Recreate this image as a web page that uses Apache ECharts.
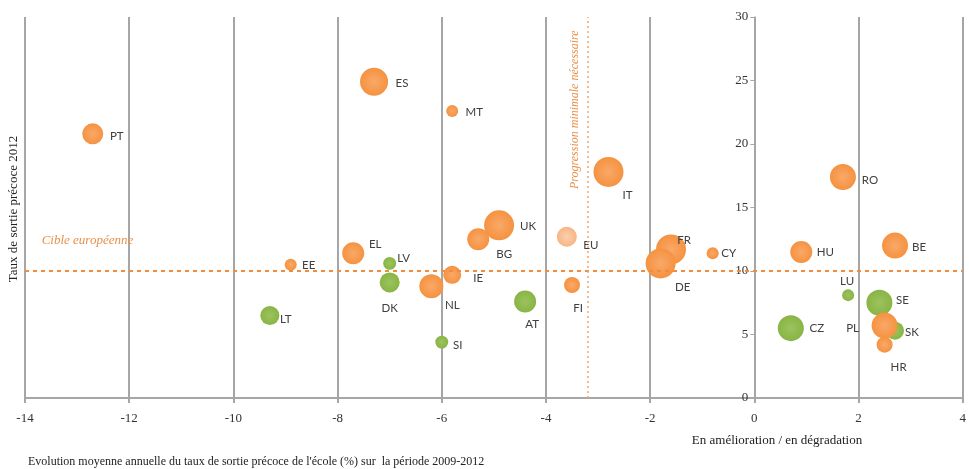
<!DOCTYPE html>
<html><head><meta charset="utf-8">
<script src="https://cdn.jsdelivr.net/npm/echarts@6/dist/echarts.min.js"></script>
<style>html,body{margin:0;padding:0;background:#fff}#c{width:969px;height:469px}</style>
</head><body><div id="c"></div>
<script>
// ---------- DATA ----------
const pays      = ['PT','ES','MT','IT','EU','RO','HU','BE','CY','FR','DE','UK','BG','EL','EE','LV','DK','IE','NL','AT','FI','LT','SI','LU','SE','CZ','PL','SK','HR'];
const evolution = [-12.7,-7.3,-5.8,-2.8,-3.6,1.7,0.9,2.7,-0.8,-1.6,-1.8,-4.9,-5.3,-7.7,-8.9,-7.0,-7.0,-5.8,-6.2,-4.4,-3.5,-9.3,-6.0,1.8,2.4,0.7,2.5,2.7,2.5];
const taux2012  = [20.8,24.9,22.6,17.8,12.7,17.4,11.5,12.0,11.4,11.7,10.6,13.6,12.5,11.4,10.5,10.6,9.1,9.7,8.8,7.6,8.9,6.5,4.4,8.1,7.5,5.5,5.7,5.3,4.2];
const poids     = [110,196,36,225,100,169,121,169,36,225,225,225,121,121,36,42,100,81,144,121,64,90,42,36,169,169,169,81,64];
const groupe    = ['o','o','o','o','eu','o','o','o','o','o','o','o','o','o','o','v','v','o','o','v','o','v','v','v','v','v','o','v','o'];
const xTicks = [-14,-12,-10,-8,-6,-4,-2,0,2,4];
const yTicks = [0,5,10,15,20,25,30];
const cibleEuropeenne = 10;
const progressionMinimale = -3.2;

// ---------- STYLE ----------
const labelOffset = {
  PT:[24,2], ES:[28,2], MT:[22,1], IT:[19,23], EU:[24,9], RO:[27,3], HU:[24,0], BE:[24,2],
  CY:[16,0], FR:[13,-9], DE:[22,24], UK:[29,1], BG:[26,15], EL:[22,-9], EE:[18,1], LV:[14,-5],
  DK:[0,26], IE:[26,3], NL:[21,19], AT:[7,23], FI:[6,23], LT:[16,4], SI:[16,3], LU:[-1,-14],
  SE:[23,-2], CZ:[26,0], PL:[-32,3], SK:[17,2], HR:[14,23]
};
function grad(c1, c2){ return {type:'radial',x:0.5,y:0.5,r:0.5,colorStops:[{offset:0,color:c1},{offset:1,color:c2}]}; }
const couleurs = { o: grad('#F9A969','#F59240'), v: grad('#9DC25F','#88B544'), eu: grad('#FAD0B0','#F7B583') };
const gridCol = '#A6A6A6';
const serif = '"Liberation Serif", "DejaVu Serif", serif';
const gridLeft = 25;

function items(g){
  const out = [];
  pays.forEach((p,i)=>{
    if (groupe[i] !== g) return;
    out.push({name:p, value:[evolution[i], taux2012[i], poids[i]], label:{offset: labelOffset[p]}});
  });
  return out;
}
function serie(g, extra){
  return Object.assign({
    type:'scatter',
    data: items(g),
    symbolSize: v => 2*Math.sqrt(v[2]),
    itemStyle:{color: couleurs[g], opacity:1},
    label:{show:true, position:'inside', formatter:'{b}', color:'#404040', fontFamily:'Lato, "Open Sans", sans-serif', fontSize:11.5},
    emphasis:{disabled:true},
    z: 3
  }, extra||{});
}

const chart = echarts.init(document.getElementById('c'), null, {renderer:'canvas'});
chart.setOption({
  animation:false,
  backgroundColor:'#fff',
  grid:{left:gridLeft, right:1, top:17, bottom:71, containLabel:false},
  xAxis:{
    type:'value', min:xTicks[0], max:xTicks[xTicks.length-1], interval:xTicks[1]-xTicks[0],
    axisLine:{show:true, onZero:false, lineStyle:{color:gridCol, width:2}},
    axisTick:{show:true, length:5, lineStyle:{color:gridCol, width:2}},
    axisLabel:{color:'#333', fontFamily:serif, fontSize:13, margin:14, showMinLabel:true, showMaxLabel:true},
    splitLine:{show:true, lineStyle:{color:gridCol, width:2}}
  },
  yAxis:{
    type:'value', position:'left', min:yTicks[0], max:yTicks[yTicks.length-1], interval:yTicks[1]-yTicks[0],
    axisLine:{show:true, onZero:false, lineStyle:{color:gridCol, width:1.5}},
    axisTick:{show:true, length:4, lineStyle:{color:gridCol}},
    axisLabel:{color:'#333', fontFamily:serif, fontSize:13, margin:6},
    splitLine:{show:false}
  },
  series:[
    serie('v'),
    serie('eu'),
    serie('o', {
      markLine:{
        silent:true, symbol:'none', animation:false,
        label:{show:false},
        data:[
          {yAxis: cibleEuropeenne, lineStyle:{color:'#F08C3E', width:2, type:[4,4]}},
          {xAxis: progressionMinimale, lineStyle:{color:'#F3A76E', width:1.5, type:[2,3]}}
        ]
      }
    })
  ]
});

// place the y axis on x = 0 (like the original, axis crossing at zero)
const x0 = chart.convertToPixel({xAxisIndex:0}, 0);
const p1 = chart.convertToPixel({gridIndex:0}, [-13.68, 12.4]);
const p2 = chart.convertToPixel({gridIndex:0}, [-3.45, 22.7]);
chart.setOption({
  yAxis:{offset: -(x0 - gridLeft)},
  graphic:[
    {type:'text', x:p1[0], y:p1[1], style:{text:'Cible européenne', fill:'#E8904A', font:'italic 13px '+serif, align:'left', verticalAlign:'middle'}},
    {type:'text', x:p2[0], y:p2[1], rotation:Math.PI/2, style:{text:'Progression minimale nécessaire', fill:'#E8904A', font:'italic 12px '+serif, align:'center', verticalAlign:'middle'}},
    {type:'text', x:14, y:209, rotation:Math.PI/2, style:{text:'Taux de sortie précoce 2012', fill:'#222', font:'13px '+serif, align:'center', verticalAlign:'middle'}},
    {type:'text', x:777, y:441, style:{text:'En amélioration / en dégradation', fill:'#222', font:'13px '+serif, align:'center', verticalAlign:'middle'}},
    {type:'text', x:28, y:462, style:{text:"Evolution moyenne annuelle du taux de sortie précoce de l'école (%) sur  la période 2009-2012", fill:'#222', font:'12px '+serif, align:'left', verticalAlign:'middle'}}
  ]
});
</script></body></html>
